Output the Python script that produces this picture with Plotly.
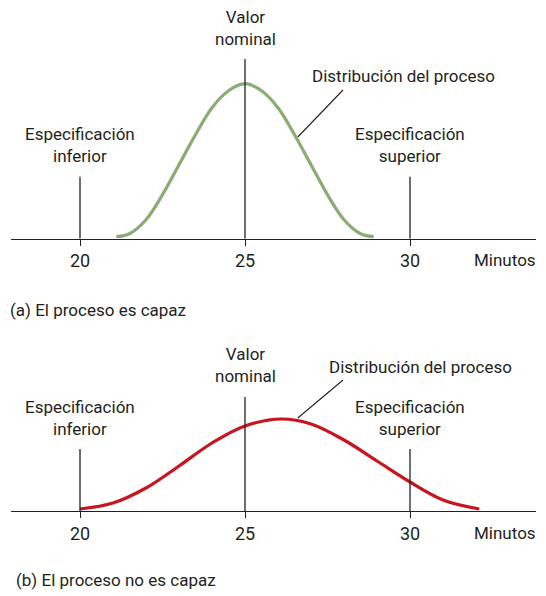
import plotly.graph_objects as go

# valores (altura relativa de la curva)
x_capaz = [21.1, 21.5, 22.0, 22.5, 23.0, 23.5, 24.0, 24.5, 25.0,
           25.5, 26.0, 26.5, 27.0, 27.5, 28.0, 28.5, 28.9]
y_capaz = [2, 5, 19, 44, 74, 104, 131, 148, 155,
           148, 131, 104, 74, 44, 19, 5, 2]

x_no_capaz = [20.0, 21.0, 22.0, 23.0, 24.0, 25.0, 26.1, 27.0, 28.0, 29.0, 30.0, 31.0, 32.1]
y_no_capaz = [2, 8, 23, 45, 68, 85, 92, 87, 71, 50, 29, 11, 2]

tick_vals = [20, 25, 30]
lim_inf, nominal, lim_sup = 20, 25, 30

FONT = "Roboto, sans-serif"
TXT = "#231f20"
PAD = 8  # margen por defecto del <body>
W, H = 546 - PAD, 596 - PAD


def fx(px):
    return (px - PAD) / W


def fy(row):
    return (H - (row - PAD)) / H


fig = go.Figure()
fig.add_trace(go.Scatter(x=x_capaz, y=y_capaz, mode="lines", line=dict(color="#8aab74", width=3.2, shape="spline"),
                         xaxis="x", yaxis="y", hoverinfo="skip"))
fig.add_trace(go.Scatter(x=x_no_capaz, y=y_no_capaz, mode="lines", line=dict(color="#c8141e", width=3.2, shape="spline"),
                         xaxis="x2", yaxis="y2", hoverinfo="skip"))

axis_common = dict(range=[17.909, 33.818], domain=[fx(11), fx(536)], showgrid=False, zeroline=False,
                   showline=True, linecolor="#231f20", linewidth=1.3, ticks="outside", ticklen=6,
                   tickcolor="#231f20", tickwidth=1.3, tickvals=tick_vals,
                   tickfont=dict(family=FONT, size=18, color=TXT), fixedrange=True)
yaxis_common = dict(visible=False, showgrid=False, zeroline=False, fixedrange=True)

# panel (a): eje en fila 238.7 px, panel (b): eje en fila 511 px
top_axis, bot_axis = 238.7, 511
fig.update_layout(
    xaxis=dict(axis_common, anchor="y"),
    yaxis=dict(yaxis_common, range=[0, top_axis - PAD], domain=[fy(top_axis), 1]),
    xaxis2=dict(axis_common, anchor="y2"),
    yaxis2=dict(yaxis_common, range=[0, bot_axis - 330], domain=[fy(bot_axis), fy(330)]),
)

shapes = []
annotations = []
f = dict(family=FONT, size=17, color=TXT)
for xr, yr, base, nom_top, nom_y, dist_x, dist_y, esp_y, lead in [
    ("x", "y", top_axis, 179.7, 211, 29.79, 162.7, 93.7, (27.97, 148.7, 26.6, 101.7)),
    ("x2", "y2", bot_axis, 114, 146.5, 30.33, 144, 93, (27.97, 131, 26.6, 93)),
]:
    line = dict(color="#231f20", width=1.3)
    shapes.append(dict(type="line", xref=xr, yref=yr, x0=nominal, x1=nominal, y0=0, y1=nom_top, line=line))
    for xs in (lim_inf, lim_sup):
        shapes.append(dict(type="line", xref=xr, yref=yr, x0=xs, x1=xs, y0=0, y1=62, line=line))
    shapes.append(dict(type="line", xref=xr, yref=yr, x0=lead[0], y0=lead[1], x1=lead[2], y1=lead[3],
                       line=dict(color="#231f20", width=1.1)))
    annotations += [
        dict(text="Valor<br>nominal", x=nominal, y=nom_y, xref=xr, yref=yr, showarrow=False, font=f),
        dict(text="Distribución del proceso", x=dist_x, y=dist_y, xref=xr, yref=yr, showarrow=False, font=f),
        dict(text="Especificación<br>inferior", x=lim_inf, y=esp_y, xref=xr, yref=yr, showarrow=False, font=f),
        dict(text="Especificación<br>superior", x=lim_sup, y=esp_y, xref=xr, yref=yr, showarrow=False, font=f),
        dict(text="Minutos", x=fx(538), y=fy(base + 21.5), xref="paper", yref="paper", showarrow=False,
             xanchor="right", yanchor="middle", font=dict(family=FONT, size=17, color=TXT)),
    ]

annotations += [
    dict(text="(a) El proceso es capaz", x=0, y=fy(310), xref="paper", yref="paper",
         xanchor="left", yanchor="middle", showarrow=False, font=f),
    dict(text="(b) El proceso no es capaz", x=fx(14), y=fy(580), xref="paper", yref="paper",
         xanchor="left", yanchor="middle", showarrow=False, font=f),
]

fig.update_layout(
    width=W, height=H,
    margin=dict(l=0, r=0, t=0, b=0),
    paper_bgcolor="white", plot_bgcolor="white",
    showlegend=False,
    shapes=shapes,
    annotations=annotations,
)

fig.write_html("out.html")
